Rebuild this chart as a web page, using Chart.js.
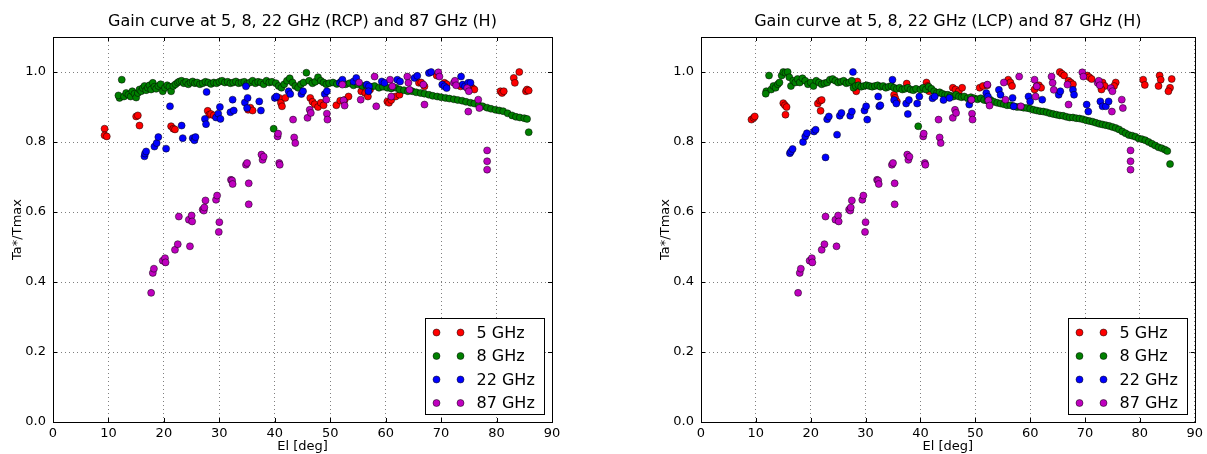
<!DOCTYPE html>
<html>
<head>
<meta charset="utf-8">
<script src="https://cdn.jsdelivr.net/npm/chart.js@4.4.1/dist/chart.umd.min.js"></script>
<style>
    body { margin: 0; background: #fff; }
    #wrap { position: relative; width: 1207px; height: 454px; }
    canvas { position: absolute; top: 0; }
</style>
</head>
<body>
<div id="wrap">
    <canvas id="rcp" width="600" height="454" style="left:0"></canvas>
    <canvas id="lcp" width="559" height="454" style="left:648px"></canvas>
</div>
<script>
const xTicks = [0, 10, 20, 30, 40, 50, 60, 70, 80, 90];
const yTicks = [0, 0.2, 0.4, 0.6, 0.8, 1.0];
const seriesLabels = ['5 GHz', '8 GHz', '22 GHz', '87 GHz'];
const seriesColors = ['#ff0000', '#008000', '#0000ff', '#bf00bf'];

// [elevation, Ta*/Tmax]
const rcp5 = [[9.3,0.838],[9.3,0.819],[9.7,0.816],[15.0,0.873],[15.3,0.876],[15.6,0.847],[21.3,0.845],[21.7,0.838],[22.0,0.836],
    [27.9,0.889],[28.2,0.878],[28.5,0.880],[29.0,0.876],[35.2,0.892],[35.6,0.898],[36.0,0.890],[40.8,0.926],[41.1,0.912],[41.3,0.902],[41.9,0.926],
    [46.4,0.926],[46.8,0.915],[47.2,0.908],[47.8,0.900],[48.3,0.912],[48.8,0.905],[51.1,0.905],[51.8,0.918],[52.6,0.920],[53.3,0.930],
    [55.6,0.945],[56.3,0.940],[56.8,0.930],[57.2,0.950],[60.3,0.916],[60.6,0.912],[61.0,0.920],[61.8,0.930],[62.5,0.935],
    [66.0,0.969],[66.4,0.970],[67.0,0.959],[69.2,0.990],[70.6,0.969],[71.0,0.965],[73.5,0.959],[75.2,0.959],[75.6,0.955],[76.0,0.950],
    [80.7,0.945],[81.0,0.940],[81.3,0.945],[83.1,0.983],[83.3,0.969],[84.1,1.000],[85.3,0.945],[85.5,0.950],[85.8,0.947]];

const rcp8 = [[12.0,0.926],[11.8,0.933],[12.4,0.978],[12.8,0.930],[13.2,0.940],[13.6,0.935],[14.0,0.930],[14.3,0.945],[14.7,0.938],[15.0,0.927],
    [15.3,0.940],[15.6,0.950],[15.9,0.945],[16.2,0.954],[16.5,0.960],[16.8,0.948],[17.1,0.955],[17.4,0.962],[17.7,0.950],[18.0,0.969],
    [18.3,0.958],[18.6,0.952],[19.0,0.960],[19.4,0.965],[19.8,0.945],[20.2,0.955],[20.6,0.962],[21.0,0.958],[21.3,0.945],[21.7,0.960],
    [22.1,0.965],[22.5,0.970],[22.8,0.973],[23.2,0.975],[23.6,0.968],[24.0,0.972],[24.4,0.965],[24.8,0.970],[25.2,0.973],[25.6,0.968],
    [26.0,0.970],[26.5,0.965],[27.0,0.968],[27.5,0.972],[28.0,0.970],[28.5,0.966],[29.0,0.970],[29.5,0.968],[30.0,0.972],[30.5,0.975],
    [31.0,0.970],[31.5,0.972],[32.0,0.968],[32.5,0.970],[33.0,0.973],[33.5,0.968],[34.0,0.970],[34.5,0.972],[35.0,0.966],[35.5,0.970],
    [36.0,0.975],[36.5,0.968],[37.0,0.972],[37.5,0.970],[38.0,0.965],[38.5,0.975],[39.0,0.970],[39.5,0.972],[39.8,0.838],[40.2,0.968],
    [40.7,0.960],[41.2,0.955],[41.7,0.965],[42.2,0.975],[42.7,0.982],[43.2,0.970],[43.7,0.960],[44.2,0.955],[44.7,0.965],[45.2,0.970],
    [45.7,0.998],[46.2,0.975],[46.8,0.968],[47.3,0.972],[47.8,0.985],[48.3,0.975],[48.8,0.970],[49.3,0.965],[49.8,0.968],[50.5,0.970],
    [51.2,0.966],[52.0,0.970],[52.8,0.965],[53.5,0.968],[54.2,0.962],[55.0,0.965],[55.8,0.960],[56.5,0.962],[57.3,0.958],[58.0,0.960],
    [58.8,0.955],[59.5,0.958],[60.3,0.955],[61.0,0.953],[61.8,0.955],[62.5,0.950],[63.3,0.948],[64.0,0.945],[64.8,0.945],[65.5,0.942],
    [66.3,0.940],[67.0,0.938],[67.8,0.935],[68.5,0.932],[69.3,0.930],[70.0,0.928],[70.8,0.926],[71.5,0.924],[72.3,0.922],[73.0,0.920],
    [73.8,0.918],[74.5,0.915],[75.3,0.912],[76.0,0.910],[76.8,0.905],[77.5,0.902],[78.3,0.898],[79.0,0.895],[79.8,0.892],[80.5,0.890],
    [81.2,0.888],[82.0,0.882],[82.8,0.876],[83.5,0.872],[84.2,0.870],[85.0,0.868],[85.5,0.866],[85.8,0.828]];

const rcp22 = [[16.5,0.759],[16.6,0.767],[16.8,0.773],[18.3,0.787],[18.7,0.797],[19.0,0.814],[20.4,0.781],[21.1,0.902],[23.2,0.847],[23.4,0.811],
    [25.2,0.811],[25.5,0.805],[25.7,0.814],[27.4,0.866],[27.6,0.851],[27.7,0.943],[29.4,0.870],[29.8,0.881],[30.1,0.900],[30.2,0.866],
    [32.0,0.885],[32.4,0.921],[32.6,0.890],[34.6,0.913],[34.8,0.959],[35.1,0.926],[35.0,0.897],[37.2,0.916],[37.5,0.890],[40.0,0.926],
    [40.3,0.930],[42.5,0.945],[42.8,0.937],[44.8,0.937],[45.1,0.945],[49.0,0.937],[49.4,0.945],[51.7,0.969],[52.0,0.973],[52.2,0.978],
    [54.2,0.973],[54.7,0.983],[56.6,0.964],[57.0,0.959],[56.9,0.945],[59.3,0.973],[59.8,0.969],[62.1,0.978],[62.6,0.973],[65.2,0.983],
    [65.7,0.989],[67.8,0.997],[68.2,1.000],[70.2,0.964],[70.6,0.959],[71.0,0.954],[73.6,0.987],[73.9,0.964],[74.3,0.959],[74.9,0.969],[75.3,0.969]];

// 87 GHz (H) is the same in both panels
const h87 = [[17.7,0.369],[18.0,0.426],[18.2,0.438],[19.8,0.461],[20.2,0.468],[20.3,0.456],[22.0,0.492],[22.5,0.508],[22.7,0.587],[24.5,0.578],
    [24.7,0.502],[25.0,0.590],[25.1,0.573],[27.0,0.607],[27.2,0.604],[27.3,0.613],[27.5,0.633],[29.4,0.635],[29.6,0.647],[29.9,0.543],
    [30.0,0.571],[32.1,0.692],[32.3,0.690],[32.4,0.680],[34.8,0.735],[35.0,0.740],[35.3,0.682],[35.3,0.622],[37.6,0.764],[37.8,0.749],
    [38.0,0.758],[40.5,0.816],[40.6,0.824],[40.8,0.740],[40.9,0.735],[43.3,0.864],[43.5,0.813],[43.7,0.797],[45.9,0.869],[46.3,0.892],
    [46.5,0.883],[49.3,0.921],[49.4,0.881],[49.5,0.864],[52.2,0.964],[52.4,0.919],[52.6,0.904],[55.2,0.970],[55.5,0.921],[58.0,0.987],
    [58.3,0.902],[60.8,0.978],[61.0,0.930],[61.2,0.959],[63.9,0.987],[64.1,0.969],[64.3,0.949],[66.8,0.964],[67.0,0.907],[69.5,0.999],
    [69.7,0.987],[72.3,0.969],[72.5,0.975],[72.7,0.962],[74.7,0.954],[74.9,0.887],[75.0,0.945],[76.7,0.921],[76.9,0.897],
    [78.3,0.776],[78.3,0.745],[78.3,0.721]];

const lcp5 = [[9.2,0.864],[9.6,0.869],[9.8,0.873],[15.0,0.911],[15.3,0.905],[15.6,0.900],[15.4,0.878],[21.3,0.910],[21.7,0.918],[22.0,0.920],
    [21.8,0.889],[28.3,0.945],[28.5,0.973],[35.2,0.935],[35.4,0.926],[35.7,0.916],[37.5,0.967],[41.1,0.970],[41.3,0.960],[41.6,0.945],
    [45.9,0.955],[46.4,0.950],[47.0,0.945],[47.6,0.955],[50.8,0.955],[51.4,0.960],[52.2,0.962],[56.0,0.978],[56.4,0.970],[56.7,0.960],
    [60.8,0.950],[61.2,0.960],[61.6,0.962],[62.0,0.955],[65.4,1.000],[65.8,0.995],[66.2,0.990],[67.0,0.975],[67.4,0.970],[67.8,0.965],
    [70.4,0.990],[70.8,0.985],[71.2,0.980],[73.2,0.970],[73.6,0.960],[73.0,0.950],[75.6,0.970],[75.3,0.960],[80.6,0.978],[80.9,0.963],
    [83.6,0.990],[83.8,0.978],[83.4,0.960],[85.8,0.980],[85.5,0.955],[85.2,0.945]];

const lcp8 = [[11.9,0.945],[11.8,0.938],[12.4,0.990],[12.8,0.950],[13.2,0.960],[13.6,0.955],[14.0,0.965],[14.3,0.970],[14.7,0.990],[15.0,1.000],
    [15.4,0.998],[15.8,1.000],[16.1,0.985],[16.4,0.960],[16.8,0.975],[17.2,0.970],[17.6,0.980],[18.0,0.970],[18.5,0.982],[19.0,0.975],
    [19.5,0.965],[20.0,0.970],[20.5,0.960],[21.0,0.975],[21.5,0.970],[22.0,0.965],[22.5,0.968],[23.0,0.970],[23.5,0.978],[24.0,0.980],
    [24.5,0.975],[25.0,0.970],[25.5,0.972],[26.0,0.975],[26.5,0.968],[27.0,0.970],[27.5,0.975],[27.8,0.955],[28.2,0.960],[28.7,0.962],
    [29.2,0.958],[29.7,0.960],[30.2,0.962],[30.7,0.960],[31.2,0.958],[31.7,0.960],[32.2,0.962],[32.7,0.958],[33.2,0.960],[33.7,0.955],
    [34.2,0.958],[34.7,0.960],[35.2,0.955],[35.7,0.952],[36.2,0.955],[36.7,0.950],[37.2,0.952],[37.7,0.955],[38.2,0.950],[38.7,0.948],
    [39.2,0.952],[39.6,0.845],[40.0,0.950],[40.5,0.955],[41.0,0.950],[41.5,0.958],[42.0,0.952],[42.5,0.945],[43.0,0.940],[43.5,0.942],
    [44.0,0.938],[44.5,0.935],[45.0,0.935],[45.5,0.932],[46.0,0.930],[46.5,0.935],[47.0,0.930],[47.5,0.928],[48.0,0.930],[48.6,0.925],
    [49.2,0.928],[49.8,0.925],[50.4,0.922],[51.0,0.925],[51.6,0.920],[52.2,0.918],[52.8,0.920],[53.4,0.915],[54.0,0.912],[54.6,0.910],
    [55.2,0.908],[55.8,0.905],[56.4,0.905],[57.0,0.902],[57.6,0.900],[58.2,0.900],[58.8,0.898],[59.4,0.897],[60.0,0.895],[60.6,0.892],
    [61.2,0.890],[61.8,0.888],[62.4,0.887],[63.0,0.885],[63.6,0.882],[64.2,0.880],[64.8,0.878],[65.4,0.876],[66.0,0.875],[66.6,0.872],
    [67.2,0.870],[67.8,0.870],[68.4,0.868],[69.0,0.867],[69.6,0.865],[70.2,0.862],[70.8,0.860],[71.4,0.858],[72.0,0.855],[72.6,0.852],
    [73.2,0.850],[73.8,0.848],[74.4,0.846],[75.0,0.843],[75.6,0.840],[76.2,0.836],[76.8,0.830],[77.4,0.825],[78.0,0.820],[78.6,0.818],
    [79.2,0.815],[79.8,0.810],[80.4,0.808],[81.0,0.805],[81.6,0.800],[82.2,0.795],[82.8,0.790],[83.4,0.785],[84.0,0.782],[84.6,0.778],
    [85.0,0.774],[85.5,0.737]];

const lcp22 = [[16.2,0.768],[16.4,0.773],[16.7,0.780],[18.6,0.800],[19.0,0.816],[19.3,0.825],[20.6,0.830],[20.9,0.835],[22.7,0.756],[23.0,0.865],
    [23.3,0.873],[24.8,0.821],[25.3,0.875],[25.6,0.883],[27.2,0.875],[27.5,0.887],[27.7,1.000],[29.8,0.890],[30.1,0.902],[30.3,0.864],
    [32.3,0.930],[32.5,0.902],[32.7,0.905],[34.9,0.978],[35.2,0.920],[35.6,0.910],[37.4,0.910],[37.7,0.880],[37.9,0.920],[39.4,0.910],
    [39.8,0.930],[42.2,0.925],[42.6,0.930],[44.2,0.920],[45.3,0.926],[48.9,0.907],[49.2,0.920],[52.0,0.940],[52.3,0.930],[54.3,0.949],
    [54.6,0.935],[56.8,0.926],[57.0,0.902],[59.7,0.930],[60.0,0.916],[62.2,0.921],[65.2,0.935],[65.5,0.945],[67.8,0.949],[68.0,0.935],
    [70.3,0.907],[70.6,0.887],[72.8,0.916],[73.2,0.902],[73.8,0.902],[74.3,0.916]];

function toPoints(pairs) {
    return pairs.map(p => ({x: p[0], y: p[1]}));
}

// box, inward ticks, title and legend drawn the old matplotlib way
const framePlugin = {
    id: 'frame',
    afterDraw(chart, args, opts) {
        const {ctx, chartArea: a, scales: {x, y}} = chart;
        ctx.save();
        ctx.strokeStyle = '#000';
        ctx.lineWidth = 1;
        ctx.beginPath();
        xTicks.forEach(v => {
            const px = Math.round(x.getPixelForValue(v)) + 0.5;
            ctx.moveTo(px, a.bottom); ctx.lineTo(px, a.bottom - 4);
            ctx.moveTo(px, a.top); ctx.lineTo(px, a.top + 4);
        });
        yTicks.forEach(v => {
            const py = Math.round(y.getPixelForValue(v)) + 0.5;
            ctx.moveTo(a.left, py); ctx.lineTo(a.left + 4, py);
            ctx.moveTo(a.right, py); ctx.lineTo(a.right - 4, py);
        });
        ctx.stroke();
        ctx.strokeRect(Math.round(a.left) + 0.5, Math.round(a.top) + 0.5, Math.round(a.width), Math.round(a.height));

        ctx.fillStyle = '#000';
        ctx.font = '16px "DejaVu Sans"';
        ctx.textAlign = 'center';
        ctx.textBaseline = 'middle';
        ctx.fillText(opts.title, (a.left + a.right) / 2, 22);

        const w = 119, h = 96;
        const left = Math.round(a.right - 8 - w) + 0.5;
        const top = Math.round(a.bottom - 8 - h) + 0.5;
        ctx.fillStyle = '#fff';
        ctx.fillRect(left, top, w, h);
        ctx.strokeRect(left, top, w, h);
        ctx.textAlign = 'left';
        chart.data.datasets.forEach((ds, i) => {
            const cy = top + 14 + i * 23.5;
            [11, 35].forEach(dx => {
                ctx.beginPath();
                ctx.arc(left + dx, cy, 3.5, 0, Math.PI * 2);
                ctx.fillStyle = ds.pointBackgroundColor;
                ctx.fill();
                ctx.lineWidth = 0.5;
                ctx.stroke();
            });
            ctx.fillStyle = '#000';
            ctx.fillText(ds.label, left + 51, cy + 1);
        });
        ctx.restore();
    }
};

function makeChart(canvas, title, series, padRight) {
    return new Chart(canvas, {
        type: 'scatter',
        data: {
            datasets: series.map((pairs, i) => ({
                label: seriesLabels[i],
                data: toPoints(pairs),
                order: 4 - i,
                pointRadius: 3.5,
                pointHoverRadius: 3.5,
                pointBorderWidth: 0.5,
                pointBorderColor: '#000',
                pointBackgroundColor: seriesColors[i],
                backgroundColor: seriesColors[i]
            }))
        },
        options: {
            responsive: false,
            animation: false,
            devicePixelRatio: 1,
            layout: { padding: { top: 37, right: padRight, left: 0, bottom: 0 } },
            plugins: {
                legend: { display: false },
                tooltip: { enabled: false },
                frame: { title: title }
            },
            scales: {
                x: {
                    type: 'linear',
                    min: 0,
                    max: 90,
                    afterBuildTicks: s => { s.ticks = xTicks.map(v => ({value: v})); },
                    afterFit: s => { s.height = 32; },
                    ticks: { color: '#000', font: { size: 13 }, padding: 4, callback: v => String(v) },
                    grid: { color: 'rgba(0,0,0,0.5)', lineWidth: 1, drawTicks: false },
                    border: { display: false, dash: [1, 3] },
                    title: { display: true, text: 'El [deg]', color: '#000', font: { size: 13 }, padding: 0 }
                },
                y: {
                    min: 0,
                    max: 1.1,
                    afterBuildTicks: s => { s.ticks = yTicks.map(v => ({value: v})); },
                    afterFit: s => { s.width = 53; },
                    ticks: { color: '#000', font: { size: 13 }, padding: 7, callback: v => v.toFixed(1) },
                    grid: { color: 'rgba(0,0,0,0.5)', lineWidth: 1, drawTicks: false },
                    border: { display: false, dash: [1, 3] },
                    title: { display: true, text: 'Ta*/Tmax', color: '#000', font: { size: 13 }, padding: { top: 10, bottom: 0 } }
                }
            }
        },
        plugins: [framePlugin]
    });
}

Chart.defaults.font.family = '"DejaVu Sans"';
makeChart(document.getElementById('rcp'), 'Gain curve at 5, 8, 22 GHz (RCP) and 87 GHz (H)', [rcp5, rcp8, rcp22, h87], 48);
makeChart(document.getElementById('lcp'), 'Gain curve at 5, 8, 22 GHz (LCP) and 87 GHz (H)', [lcp5, lcp8, lcp22, h87], 6);
</script>
</body>
</html>
